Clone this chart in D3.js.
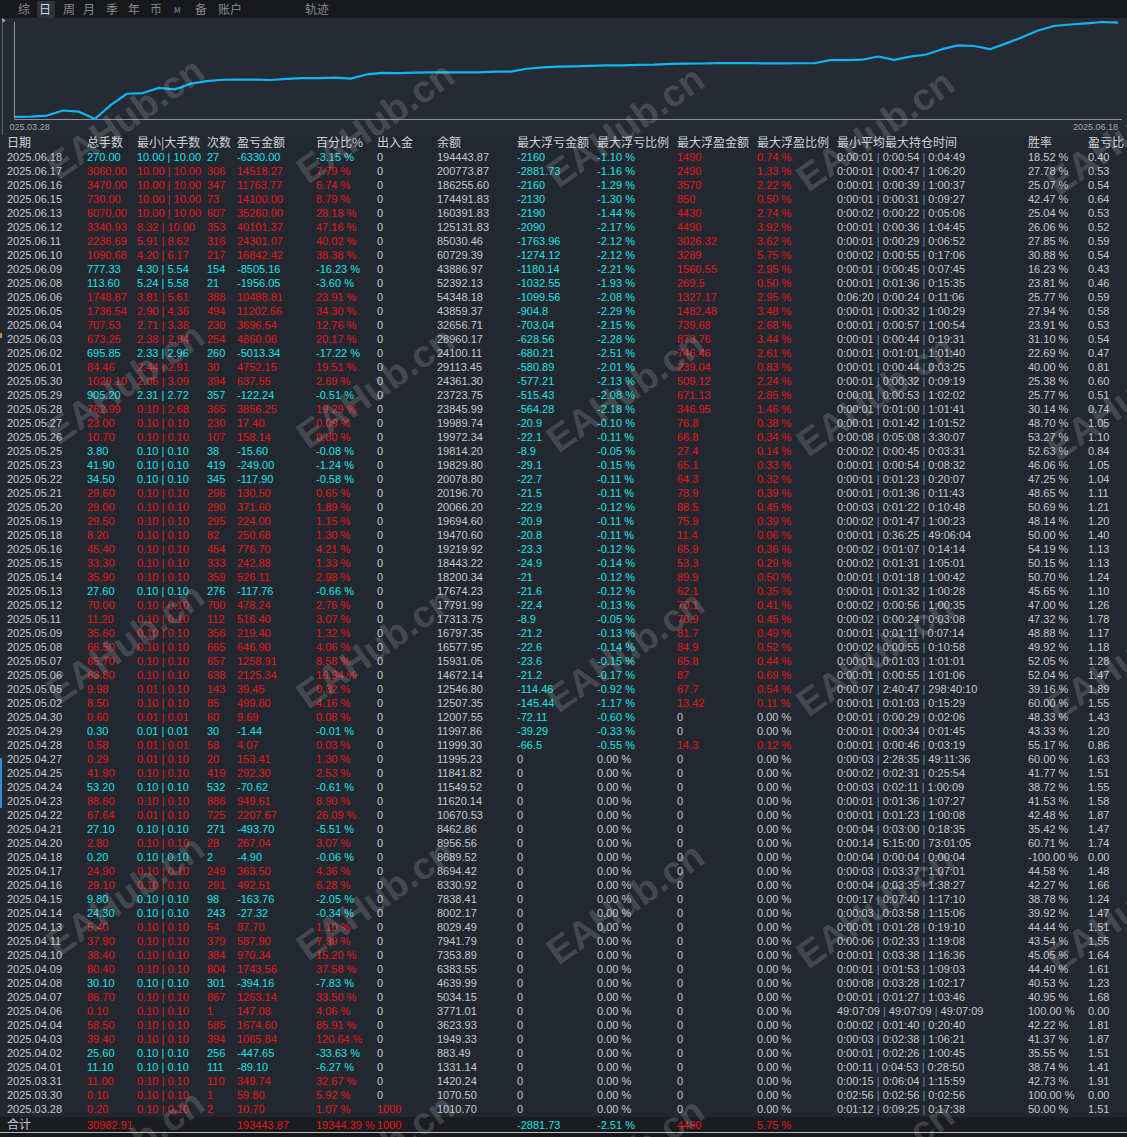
<!DOCTYPE html>
<html><head><meta charset="utf-8">
<script src="https://cdn.jsdelivr.net/npm/d3@7"></script>
<style>
html,body{margin:0;padding:0;background:#232830;overflow:hidden;}
svg{display:block;}
</style></head>
<body>
<svg id="c" width="1127" height="1137"></svg>
<script>
// ---------------- DATA ----------------
const tabs = ["综","日","周","月","季","年","币","M","备","账户","轨迹"];
const headers = ["日期","总手数","最小|大手数","次数","盈亏金额","百分比%","出入金","余额","最大浮亏金额","最大浮亏比例","最大浮盈金额","最大浮盈比例","最小平均最大持仓时间","胜率","盈亏比"];
const dates = ["2025.06.18","2025.06.17","2025.06.16","2025.06.15","2025.06.13","2025.06.12","2025.06.11","2025.06.10","2025.06.09","2025.06.08","2025.06.06","2025.06.05","2025.06.04","2025.06.03","2025.06.02","2025.06.01","2025.05.30","2025.05.29","2025.05.28","2025.05.27","2025.05.26","2025.05.25","2025.05.23","2025.05.22","2025.05.21","2025.05.20","2025.05.19","2025.05.18","2025.05.16","2025.05.15","2025.05.14","2025.05.13","2025.05.12","2025.05.11","2025.05.09","2025.05.08","2025.05.07","2025.05.06","2025.05.05","2025.05.02","2025.04.30","2025.04.29","2025.04.28","2025.04.27","2025.04.25","2025.04.24","2025.04.23","2025.04.22","2025.04.21","2025.04.20","2025.04.18","2025.04.17","2025.04.16","2025.04.15","2025.04.14","2025.04.13","2025.04.11","2025.04.10","2025.04.09","2025.04.08","2025.04.07","2025.04.06","2025.04.04","2025.04.03","2025.04.02","2025.04.01","2025.03.31","2025.03.30","2025.03.28"];
const totalLots = [270.00,3060.00,3470.00,730.00,6070.00,3340.93,2236.69,1090.68,777.33,113.60,1748.87,1736.54,707.53,673.25,695.85,84.46,1029.10,905.20,762.99,23.00,10.70,3.80,41.90,34.50,29.60,29.00,29.50,8.20,45.40,33.30,35.90,27.60,70.00,11.20,35.60,66.50,65.70,63.80,9.98,8.50,0.60,0.30,0.58,0.29,41.90,53.20,88.60,67.64,27.10,2.80,0.20,24.90,29.10,9.80,24.30,5.40,37.90,38.40,80.40,30.10,86.70,0.10,58.50,39.40,25.60,11.10,11.00,0.10,0.20];
const minLots = [10.00,10.00,10.00,10.00,10.00,8.32,5.91,4.20,4.30,5.24,3.81,2.90,2.71,2.38,2.33,2.44,2.06,2.31,0.10,0.10,0.10,0.10,0.10,0.10,0.10,0.10,0.10,0.10,0.10,0.10,0.10,0.10,0.10,0.10,0.10,0.10,0.10,0.10,0.01,0.10,0.01,0.01,0.01,0.01,0.10,0.10,0.10,0.01,0.10,0.10,0.10,0.10,0.10,0.10,0.10,0.10,0.10,0.10,0.10,0.10,0.10,0.10,0.10,0.10,0.10,0.10,0.10,0.10,0.10];
const maxLots = [10.00,10.00,10.00,10.00,10.00,10.00,8.62,6.17,5.54,5.58,5.61,4.36,3.38,2.94,2.96,2.91,3.09,2.72,2.68,0.10,0.10,0.10,0.10,0.10,0.10,0.10,0.10,0.10,0.10,0.10,0.10,0.10,0.10,0.10,0.10,0.10,0.10,0.10,0.10,0.10,0.01,0.01,0.01,0.10,0.10,0.10,0.10,0.10,0.10,0.10,0.10,0.10,0.10,0.10,0.10,0.10,0.10,0.10,0.10,0.10,0.10,0.10,0.10,0.10,0.10,0.10,0.10,0.10,0.10];
const tradeCounts = [27,306,347,73,607,353,316,217,154,21,388,494,230,254,260,30,394,357,365,230,107,38,419,345,296,290,295,82,454,333,359,276,700,112,356,665,657,638,143,85,60,30,58,20,419,532,886,725,271,28,2,249,291,98,243,54,379,384,804,301,867,1,585,394,256,111,110,1,2];
const pnl = [-6330.00,14518.27,11763.77,14100.00,35260.00,40101.37,24301.07,16842.42,-8505.16,-1956.05,10488.81,11202.66,3696.54,4860.06,-5013.34,4752.15,637.55,-122.24,3856.25,17.40,158.14,-15.60,-249.00,-117.90,130.50,371.60,224.00,250.68,776.70,242.88,526.11,-117.76,478.24,516.40,219.40,646.90,1258.91,2125.34,39.45,499.80,9.69,-1.44,4.07,153.41,292.30,-70.62,949.61,2207.67,-493.70,267.04,-4.90,363.50,492.51,-163.76,-27.32,87.70,587.90,970.34,1743.56,-394.16,1263.14,147.08,1674.60,1065.84,-447.65,-89.10,349.74,59.80,10.70];
const pnlPct = [-3.15,7.79,6.74,8.79,28.18,47.16,40.02,38.38,-16.23,-3.60,23.91,34.30,12.76,20.17,-17.22,19.51,2.69,-0.51,19.29,0.09,0.80,-0.08,-1.24,-0.58,0.65,1.89,1.15,1.30,4.21,1.33,2.98,-0.66,2.76,3.07,1.32,4.06,8.58,16.94,0.32,4.16,0.08,-0.01,0.03,1.30,2.53,-0.61,8.90,26.09,-5.51,3.07,-0.06,4.36,6.28,-2.05,-0.34,1.10,7.99,15.20,37.58,-7.83,33.50,4.06,85.91,120.64,-33.63,-6.27,32.67,5.92,1.07];
const deposits = [0,0,0,0,0,0,0,0,0,0,0,0,0,0,0,0,0,0,0,0,0,0,0,0,0,0,0,0,0,0,0,0,0,0,0,0,0,0,0,0,0,0,0,0,0,0,0,0,0,0,0,0,0,0,0,0,0,0,0,0,0,0,0,0,0,0,0,0,1000];
const balances = [194443.87,200773.87,186255.60,174491.83,160391.83,125131.83,85030.46,60729.39,43886.97,52392.13,54348.18,43859.37,32656.71,28960.17,24100.11,29113.45,24361.30,23723.75,23845.99,19989.74,19972.34,19814.20,19829.80,20078.80,20196.70,20066.20,19694.60,19470.60,19219.92,18443.22,18200.34,17674.23,17791.99,17313.75,16797.35,16577.95,15931.05,14672.14,12546.80,12507.35,12007.55,11997.86,11999.30,11995.23,11841.82,11549.52,11620.14,10670.53,8462.86,8956.56,8689.52,8694.42,8330.92,7838.41,8002.17,8029.49,7941.79,7353.89,6383.55,4639.99,5034.15,3771.01,3623.93,1949.33,883.49,1331.14,1420.24,1070.50,1010.70];
const maxFloatLoss = [-2160,-2881.73,-2160,-2130,-2190,-2090,-1763.96,-1274.12,-1180.14,-1032.55,-1099.56,-904.8,-703.04,-628.56,-680.21,-580.89,-577.21,-515.43,-564.28,-20.9,-22.1,-8.9,-29.1,-22.7,-21.5,-22.9,-20.9,-20.8,-23.3,-24.9,-21,-21.6,-22.4,-8.9,-21.2,-22.6,-23.6,-21.2,-114.46,-145.44,-72.11,-39.29,-66.5,0,0,0,0,0,0,0,0,0,0,0,0,0,0,0,0,0,0,0,0,0,0,0,0,0,0];
const maxFloatLossPct = [-1.10,-1.16,-1.29,-1.30,-1.44,-2.17,-2.12,-2.12,-2.21,-1.93,-2.08,-2.29,-2.15,-2.28,-2.51,-2.01,-2.13,-2.08,-2.18,-0.10,-0.11,-0.05,-0.15,-0.11,-0.11,-0.12,-0.11,-0.11,-0.12,-0.14,-0.12,-0.12,-0.13,-0.05,-0.13,-0.14,-0.15,-0.17,-0.92,-1.17,-0.60,-0.33,-0.55,0,0,0,0,0,0,0,0,0,0,0,0,0,0,0,0,0,0,0,0,0,0,0,0,0,0];
const maxFloatProfit = [1490,2490,3570,850,4430,4490,3026.32,3289,1560.55,269.5,1327.17,1482.48,739.68,873.76,746.46,239.04,509.12,671.13,346.95,76.8,66.8,27.4,65.1,64.3,78.9,88.5,75.9,11.4,65.9,53.3,89.9,62.1,70.1,76.9,81.7,84.9,65.8,87,67.7,13.42,0,0,14.3,0,0,0,0,0,0,0,0,0,0,0,0,0,0,0,0,0,0,0,0,0,0,0,0,0,0];
const maxFloatProfitPct = [0.74,1.33,2.22,0.50,2.74,3.92,3.62,5.75,2.95,0.50,2.95,3.48,2.68,3.44,2.61,0.83,2.24,2.85,1.46,0.38,0.34,0.14,0.33,0.32,0.39,0.45,0.39,0.06,0.36,0.29,0.50,0.35,0.41,0.45,0.49,0.52,0.44,0.69,0.54,0.11,0,0,0.12,0,0,0,0,0,0,0,0,0,0,0,0,0,0,0,0,0,0,0,0,0,0,0,0,0,0];
const holdMin = ["0:00:01","0:00:01","0:00:01","0:00:01","0:00:02","0:00:01","0:00:01","0:00:02","0:00:01","0:00:01","0:06:20","0:00:01","0:00:01","0:00:01","0:00:01","0:00:01","0:00:01","0:00:01","0:00:01","0:00:01","0:00:08","0:00:02","0:00:01","0:00:01","0:00:01","0:00:03","0:00:02","0:00:01","0:00:02","0:00:02","0:00:01","0:00:01","0:00:02","0:00:02","0:00:01","0:00:02","0:00:01","0:00:01","0:00:07","0:00:01","0:00:01","0:00:01","0:00:01","0:00:03","0:00:02","0:00:03","0:00:01","0:00:01","0:00:04","0:00:14","0:00:04","0:00:03","0:00:04","0:00:17","0:00:03","0:00:01","0:00:06","0:00:01","0:00:01","0:00:08","0:00:01","49:07:09","0:00:02","0:00:03","0:00:01","0:00:11","0:00:15","0:02:56","0:01:12"];
const holdAvg = ["0:00:54","0:00:47","0:00:39","0:00:31","0:00:22","0:00:36","0:00:29","0:00:55","0:00:45","0:01:36","0:00:24","0:00:32","0:00:57","0:00:44","0:01:01","0:00:44","0:00:32","0:00:53","0:01:00","0:01:42","0:05:08","0:00:45","0:00:54","0:01:23","0:01:36","0:01:22","0:01:47","0:36:25","0:01:07","0:01:31","0:01:18","0:01:32","0:00:56","0:00:24","0:01:11","0:00:55","0:01:03","0:00:55","2:40:47","0:01:03","0:00:29","0:00:34","0:00:46","2:28:35","0:02:31","0:02:11","0:01:36","0:01:23","0:03:00","5:15:00","0:00:04","0:03:37","0:03:35","0:07:40","0:03:58","0:01:28","0:02:33","0:03:38","0:01:53","0:03:28","0:01:27","49:07:09","0:01:40","0:02:38","0:02:26","0:04:53","0:06:04","0:02:56","0:09:25"];
const holdMax = ["0:04:49","1:06:20","1:00:37","0:09:27","0:05:06","1:04:45","0:06:52","0:17:06","0:07:45","0:15:35","0:11:06","1:00:29","1:00:54","0:19:31","1:01:40","0:03:25","0:09:19","1:02:02","1:01:41","1:01:52","3:30:07","0:03:31","0:08:32","0:20:07","0:11:43","0:10:48","1:00:23","49:06:04","0:14:14","1:05:01","1:00:42","1:00:28","1:00:35","0:03:08","0:07:14","0:10:58","1:01:01","1:01:06","298:40:10","0:15:29","0:02:06","0:01:45","0:03:19","49:11:36","0:25:54","1:00:09","1:07:27","1:00:08","0:18:35","73:01:05","0:00:04","1:07:01","1:38:27","1:17:10","1:15:06","0:19:10","1:19:08","1:16:36","1:09:03","1:02:17","1:03:46","49:07:09","0:20:40","1:06:21","1:00:45","0:28:50","1:15:59","0:02:56","0:17:38"];
const winRates = [18.52,27.78,25.07,42.47,25.04,26.06,27.85,30.88,16.23,23.81,25.77,27.94,23.91,31.10,22.69,40.00,25.38,25.77,30.14,48.70,53.27,52.63,46.06,47.25,48.65,50.69,48.14,50.00,54.19,50.15,50.70,45.65,47.00,47.32,48.88,49.92,52.05,52.04,39.16,60.00,48.33,43.33,55.17,60.00,41.77,38.72,41.53,42.48,35.42,60.71,-100.00,44.58,42.27,38.78,39.92,44.44,43.54,45.05,44.40,40.53,40.95,100.00,42.22,41.37,35.55,38.74,42.73,100.00,50.00];
const profitRatios = [0.40,0.53,0.54,0.64,0.53,0.52,0.59,0.54,0.43,0.46,0.59,0.58,0.53,0.54,0.47,0.81,0.60,0.51,0.74,1.05,1.10,0.84,1.05,1.04,1.11,1.21,1.20,1.40,1.13,1.13,1.24,1.10,1.26,1.78,1.17,1.18,1.28,1.47,1.89,1.55,1.43,1.20,0.86,1.63,1.51,1.55,1.58,1.87,1.47,1.74,0.00,1.48,1.66,1.24,1.47,1.51,1.55,1.64,1.61,1.23,1.68,0.00,1.81,1.87,1.51,1.41,1.91,0.00,1.51];
const totalLabel = "合计";
const totalValues = {lots:"30982.91", pnl:"193443.87", pct:"19344.39 %", dep:"1000", fl:"-2881.73", flp:"-2.51 %", fp:"4490", fpp:"5.75 %"};
const watermarkText = "EAHub.cn";

// ---------------- STYLE ----------------
const RED = "#e8161b", CYAN = "#17e4e6", GREY = "#c3c8d0", SEP = "#5b8fd8";
const NUM_FONT = "'Liberation Sans', Arial, sans-serif";
const CJK_FONT = "'Noto Sans CJK SC', 'Noto Sans', sans-serif";

const svg = d3.select("#c");
const W = 1127, H = 1137;

// backgrounds
svg.append("rect").attr("x",0).attr("y",0).attr("width",W).attr("height",H).attr("fill","#232830");
svg.append("rect").attr("x",0).attr("y",0).attr("width",W).attr("height",18).attr("fill","#16181b");
svg.append("rect").attr("x",0).attr("y",18).attr("width",W).attr("height",117).attr("fill","#252a33");

// tabs
const tabX = [18,39,63,83,106,128,150,174,195,218,305];
svg.append("rect").attr("x",37).attr("y",1).attr("width",18).attr("height",17).attr("rx",2).attr("fill","#2c343f");
svg.selectAll("text.tab").data(tabs).join("text").attr("class","tab")
  .attr("x",(d,i)=>tabX[i]).attr("y",10).attr("dy","0.35em")
  .attr("font-family",CJK_FONT)
  .attr("font-size",(d)=> d==="M" ? 8 : 12)
  .attr("font-weight",(d)=> d==="M" ? 700 : 400)
  .attr("fill",(d)=> d==="日" ? "#d5d9de" : (d==="M" ? "#5e6f92" : "#858a91"))
  .text(d=>d);

// panel border and marker
svg.append("line").attr("x1",2.5).attr("x2",2.5).attr("y1",18).attr("y2",135).attr("stroke","#5c6068");
svg.append("path").attr("d","M2,18 L6,20.5 L2,23 Z").attr("fill","#9aa0a8");

// ---------------- LINE CHART ----------------
const chrono = balances.slice().reverse();
const initial = balances[balances.length-1] - pnl[pnl.length-1];
const equity = [initial].concat(chrono);
const xS = d3.scaleLinear().domain([0, equity.length-1]).range([15, 1118]);
const yS = d3.scaleLog().domain(d3.extent(equity)).range([119, 22]);

svg.append("line").attr("x1",14.5).attr("x2",14.5).attr("y1",22).attr("y2",119.5).attr("stroke","#8d9299").attr("stroke-width",1);
svg.append("line").attr("x1",14.5).attr("x2",1122).attr("y1",119.5).attr("y2",119.5).attr("stroke","#8d9299").attr("stroke-width",1);

svg.append("path").datum(equity)
  .attr("d", d3.line().x((d,i)=>xS(i)).y(d=>yS(d)))
  .attr("fill","none").attr("stroke","#0fb5f5").attr("stroke-width",2.2).attr("stroke-linejoin","round");

svg.append("clipPath").attr("id","lclip").append("rect").attr("x",10).attr("y",118).attr("width",1110).attr("height",16);
const firstDate = dates[dates.length-1], lastDate = dates[0];
svg.append("text").attr("clip-path","url(#lclip)").attr("x",4.6).attr("y",127).attr("dy","0.35em")
  .attr("font-family",NUM_FONT).attr("font-size",9).attr("fill","#a3a8b0").text(firstDate);
svg.append("text").attr("x",1118).attr("y",127).attr("dy","0.35em").attr("text-anchor","end")
  .attr("font-family",NUM_FONT).attr("font-size",9).attr("fill","#a3a8b0").text(lastDate);

// ---------------- TABLE ----------------
const colX = [7,87,137,207,237,316,377,437,517,597,677,757,837,1028,1088];
svg.append("g").selectAll("text").data(headers).join("text")
  .attr("x",(d,i)=>colX[i]).attr("y",143).attr("dy","0.35em")
  .attr("font-family",CJK_FONT).attr("font-size",12).attr("fill","#cfd3d9")
  .text(d=>d);

const rowY = d3.scalePoint().domain(dates).range([157, 157 + 14*(dates.length-1)]);
const f2 = v => v.toFixed(2);
const pct = v => v.toFixed(2) + " %";

const rows = svg.append("g").selectAll("g").data(dates).join("g")
  .attr("transform", d=>`translate(0,${rowY(d)})`)
  .attr("font-family",NUM_FONT).attr("font-size",11);

function cell(sel, x, fn, colorFn){
  sel.append("text").attr("x",x).attr("dy","0.36em")
    .attr("fill",(d,i)=>colorFn(i)).text((d,i)=>fn(i));
}
const idx = (d)=>dates.indexOf(d);
rows.each(function(d){
  const i = idx(d);
  const g = d3.select(this);
  const sc = pnl[i] >= 0 ? RED : CYAN;
  const t = (x, s, c) => g.append("text").attr("x",x).attr("dy","0.36em").attr("fill",c).text(s);
  t(colX[0], d, GREY);
  t(colX[1], f2(totalLots[i]), sc);
  const lt = g.append("text").attr("x",colX[2]).attr("dy","0.36em").attr("fill",sc);
  lt.append("tspan").text(f2(minLots[i]) + " ");
  lt.append("tspan").text("|");
  lt.append("tspan").text(" " + f2(maxLots[i]));
  t(colX[3], String(tradeCounts[i]), sc);
  t(colX[4], f2(pnl[i]), sc);
  t(colX[5], pct(pnlPct[i]), sc);
  t(colX[6], String(deposits[i]), deposits[i] > 0 ? RED : GREY);
  t(colX[7], f2(balances[i]), GREY);
  t(colX[8], String(maxFloatLoss[i]), maxFloatLoss[i] !== 0 ? CYAN : GREY);
  t(colX[9], pct(maxFloatLossPct[i]), maxFloatLoss[i] !== 0 ? CYAN : GREY);
  t(colX[10], String(maxFloatProfit[i]), maxFloatProfit[i] !== 0 ? RED : GREY);
  t(colX[11], pct(maxFloatProfitPct[i]), maxFloatProfit[i] !== 0 ? RED : GREY);
  const ht = g.append("text").attr("x",colX[12]).attr("dy","0.36em").attr("fill",GREY);
  ht.append("tspan").text(holdMin[i] + " ");
  ht.append("tspan").attr("fill",SEP).text("|");
  ht.append("tspan").text(" " + holdAvg[i] + " ");
  ht.append("tspan").attr("fill",SEP).text("|");
  ht.append("tspan").text(" " + holdMax[i]);
  t(colX[13], pct(winRates[i]), GREY);
  t(colX[14], f2(profitRatios[i]), GREY);
});

// total row
const ty = 1125;
svg.append("rect").attr("x",0).attr("y",1117).attr("width",W).attr("height",15).attr("fill","#1a1c20");
svg.append("line").attr("x1",0).attr("x2",W).attr("y1",1132.5).attr("y2",1132.5).attr("stroke","#b9bdc3");
svg.append("rect").attr("x",0).attr("y",1133).attr("width",W).attr("height",4).attr("fill","#16181b");
const tg = svg.append("g").attr("transform",`translate(0,${ty})`).attr("font-family",NUM_FONT).attr("font-size",11);
tg.append("text").attr("x",colX[0]).attr("dy","0.36em").attr("font-family",CJK_FONT).attr("font-size",12).attr("fill",GREY).text(totalLabel);
[[1,totalValues.lots,RED],[4,totalValues.pnl,RED],[5,totalValues.pct,RED],[6,totalValues.dep,RED],
 [8,totalValues.fl,CYAN],[9,totalValues.flp,CYAN],[10,totalValues.fp,RED],[11,totalValues.fpp,RED]]
 .forEach(([c,s,col])=>tg.append("text").attr("x",colX[c]).attr("dy","0.36em").attr("fill",col).text(s));

// small UI marks at left edge
svg.append("rect").attr("x",0).attr("y",758).attr("width",2).attr("height",50).attr("fill","#2f8fd8");
svg.append("rect").attr("x",0).attr("y",333).attr("width",2).attr("height",5).attr("fill","#d08a30");

// ---------------- WATERMARKS ----------------
const wmX = [125, 375, 625, 875, 1125];
const wmY = [118, 383, 643, 895, 1150];
const wm = [];
wmY.forEach((y,r)=>wmX.forEach((x,c)=>wm.push([x, y + c*4])));
svg.append("g").selectAll("text").data(wm).join("text")
  .attr("transform",d=>`translate(${d[0]},${d[1]}) rotate(-35)`)
  .attr("text-anchor","middle").attr("dy","0.35em")
  .attr("font-family","'Liberation Sans', Arial, sans-serif").attr("font-weight",700).attr("font-size",38)
  .attr("fill","#d5d7da").attr("fill-opacity",0.2)
  .text(watermarkText);
</script>
</body></html>
